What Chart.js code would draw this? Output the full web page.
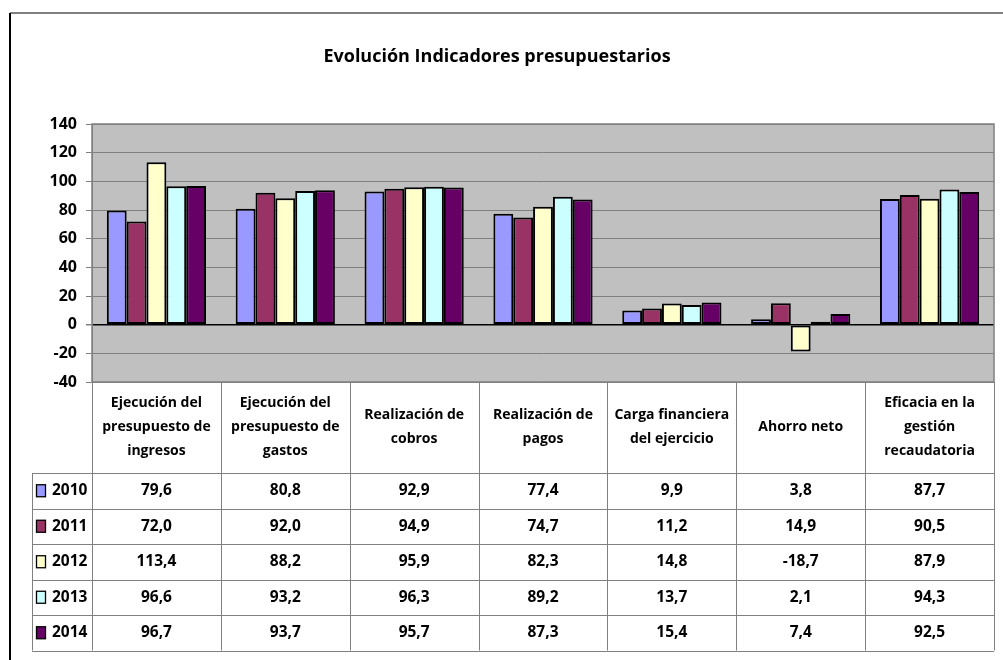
<!DOCTYPE html>
<html>
<head>
<meta charset="utf-8">
<script src="https://cdn.jsdelivr.net/npm/chart.js@4.4.1/dist/chart.umd.min.js"></script>
<style>
  html, body { margin: 0; padding: 0; background: #fff; }
  #wrap { width: 1003px; height: 660px; position: relative; }
</style>
</head>
<body>
<div id="wrap"><canvas id="grafica"></canvas></div>
<script>
const categorias = [
    ['Ejecución del', 'presupuesto de', 'ingresos'],
    ['Ejecución del', 'presupuesto de', 'gastos'],
    ['Realización de', 'cobros'],
    ['Realización de', 'pagos'],
    ['Carga financiera', 'del ejercicio'],
    ['Ahorro neto'],
    ['Eficacia en la', 'gestión', 'recaudatoria']
];
const anios = ['2010', '2011', '2012', '2013', '2014'];
const v2010 = [79.6, 80.8, 92.9, 77.4, 9.9, 3.8, 87.7];
const v2011 = [72.0, 92.0, 94.9, 74.7, 11.2, 14.9, 90.5];
const v2012 = [113.4, 88.2, 95.9, 82.3, 14.8, -18.7, 87.9];
const v2013 = [96.6, 93.2, 96.3, 89.2, 13.7, 2.1, 94.3];
const v2014 = [96.7, 93.7, 95.7, 87.3, 15.4, 7.4, 92.5];
const colores = ['#9999FF', '#993366', '#FFFFCC', '#CCFFFF', '#660066'];

const fuente = "'Open Sans', Lato, Arial, sans-serif";
const series = [v2010, v2011, v2012, v2013, v2014];

// fondo gris, marco y tabla de datos bajo el gráfico
const tablaPlugin = {
    id: 'tabla',
    beforeDraw(chart) {
        const { ctx, chartArea: a } = chart;
        ctx.save();
        ctx.fillStyle = '#C0C0C0';
        ctx.fillRect(a.left, a.top, a.right - a.left, a.bottom - a.top);
        ctx.restore();
    },
    afterDraw(chart) {
        const { ctx, chartArea: a, scales } = chart;
        const x = scales.x;
        const altoCab = 91;
        const altoFila = 35.5;
        const anchoCat = (a.right - a.left) / categorias.length;
        const leyIzq = 32;
        const finTabla = a.bottom + altoCab + altoFila * anios.length;

        ctx.save();
        // marco exterior
        ctx.strokeStyle = '#808080';
        ctx.lineWidth = 2;
        ctx.beginPath();
        ctx.moveTo(10, 13); ctx.lineTo(chart.width, 13);
        ctx.stroke();
        ctx.strokeStyle = '#000';
        ctx.beginPath();
        ctx.moveTo(10, 13); ctx.lineTo(10, chart.height);
        ctx.stroke();

        // borde del área de trazado
        ctx.strokeStyle = '#808080';
        ctx.lineWidth = 1.5;
        ctx.strokeRect(a.left, a.top, a.right - a.left, a.bottom - a.top);

        // líneas de la tabla
        ctx.lineWidth = 1;
        ctx.strokeStyle = '#808080';
        for (let i = 0; i <= anios.length; i++) {
            const y = Math.round(a.bottom + altoCab + altoFila * i) + 0.5;
            ctx.beginPath();
            ctx.moveTo(leyIzq, y); ctx.lineTo(a.right, y);
            ctx.stroke();
        }
        for (let i = 0; i <= categorias.length; i++) {
            const xx = Math.round(a.left + anchoCat * i) + 0.5;
            ctx.beginPath();
            ctx.moveTo(xx, a.bottom); ctx.lineTo(xx, finTabla);
            ctx.stroke();
        }
        ctx.beginPath();
        ctx.moveTo(leyIzq + 0.5, a.bottom + altoCab); ctx.lineTo(leyIzq + 0.5, finTabla);
        ctx.stroke();

        // cabeceras
        ctx.fillStyle = '#000';
        ctx.textAlign = 'center';
        ctx.textBaseline = 'middle';
        ctx.font = 'bold 14px ' + fuente;
        const medioCab = a.bottom + altoCab / 2;
        categorias.forEach((lineas, i) => {
            const cx = x.getPixelForValue(i);
            lineas.forEach((t, j) => {
                ctx.fillText(t, cx, medioCab + (j - (lineas.length - 1) / 2) * 24);
            });
        });

        // filas de valores
        ctx.font = 'bold 15.5px ' + fuente;
        anios.forEach((anio, r) => {
            const cy = a.bottom + altoCab + altoFila * (r + 0.5);
            series[r].forEach((v, i) => {
                ctx.textAlign = 'center';
                ctx.fillText(v.toFixed(1).replace('.', ','), x.getPixelForValue(i), cy);
            });
            // clave de leyenda
            ctx.fillStyle = colores[r];
            ctx.fillRect(36.5, cy - 6, 9, 12);
            ctx.strokeStyle = '#000';
            ctx.lineWidth = 1.3;
            ctx.strokeRect(36.5, cy - 6, 9, 12);
            ctx.fillStyle = '#000';
            ctx.textAlign = 'left';
            ctx.fillText(anio, 52, cy);
        });
        ctx.restore();
    }
};

new Chart(document.getElementById('grafica'), {
    type: 'bar',
    data: {
        labels: categorias.map(c => c.join(' ')),
        datasets: anios.map((anio, i) => ({
            label: anio,
            data: series[i],
            backgroundColor: colores[i],
            borderColor: '#000',
            borderWidth: 2,
            borderSkipped: false,
            barPercentage: 1,
            categoryPercentage: 0.77
        }))
    },
    options: {
        responsive: true,
        maintainAspectRatio: false,
        animation: false,
        layout: { padding: { left: 0, top: 46, right: 9, bottom: 278 } },
        plugins: {
            legend: { display: false },
            tooltip: { enabled: false },
            title: {
                display: true,
                text: 'Evolución Indicadores presupuestarios',
                color: '#000',
                padding: { top: 0, bottom: 56.4 },
                font: { family: fuente, size: 18, weight: 'bold' }
            }
        },
        scales: {
            x: { display: false },
            y: {
                min: -40,
                max: 140,
                afterFit: s => { s.width = 92; },
                border: { display: true, color: '#808080', width: 1 },
                grid: {
                    color: ctx => ctx.tick.value === 0 ? '#000' : '#808080',
                    lineWidth: ctx => ctx.tick.value === 0 ? 1.5 : 1,
                    tickLength: 6,
                    tickColor: '#808080'
                },
                ticks: {
                    stepSize: 20,
                    padding: 9,
                    color: '#000',
                    font: { family: fuente, size: 16, weight: 'bold' }
                }
            }
        }
    },
    plugins: [tablaPlugin]
});
</script>
</body>
</html>
